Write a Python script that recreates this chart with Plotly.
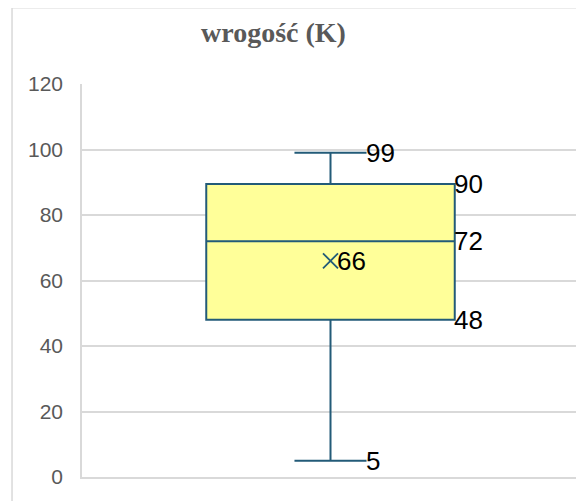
import plotly.graph_objects as go

# Data
category = ["wrogość (K)"]
q1_vals = [48]
median_vals = [72]
q3_vals = [89.5]
min_vals = [5]
max_vals = [99]
mean_vals = [66]
label_q1 = ["48"]
label_median = ["72"]
label_q3 = ["90"]
label_min = ["5"]
label_max = ["99"]
label_mean = ["66"]
y_ticks = [0, 20, 40, 60, 80, 100, 120]

line_col = "#235B78"
fill_col = "#FFFF99"
grid_col = "#D9D9D9"

fig = go.Figure()
fig.add_trace(go.Box(
    x=[0], q1=q1_vals, median=median_vals, q3=q3_vals,
    lowerfence=min_vals, upperfence=max_vals,
    width=1.0, whiskerwidth=0.29,
    fillcolor=fill_col, line=dict(color=line_col, width=2),
    boxpoints=False, hoverinfo="skip", showlegend=False,
))
fig.add_trace(go.Scatter(
    x=[0], y=mean_vals, mode="markers",
    marker=dict(symbol="x-thin", size=15, line=dict(color=line_col, width=1.8)),
    showlegend=False, hoverinfo="skip",
))

box_half = 0.5
cap_half = 0.5 * 0.29
font_lbl = dict(family="Liberation Sans, Arial", size=26, color="black")
labels = [
    (cap_half, max_vals[0], label_max[0]),
    (box_half, q3_vals[0], label_q3[0]),
    (box_half, median_vals[0], label_median[0]),
    (box_half, q1_vals[0], label_q1[0]),
    (cap_half, min_vals[0], label_min[0]),
    (0.03, mean_vals[0], label_mean[0]),
]
for lx, ly, lt in labels:
    fig.add_annotation(x=lx, y=ly, text=lt, showarrow=False, xanchor="left",
                       yanchor="middle", xshift=-2, font=font_lbl, borderpad=0)

# Title
fig.add_annotation(text="<b>" + category[0] + "</b>", xref="paper", yref="paper",
                   x=0.385, y=1.13, xanchor="center", yanchor="middle", showarrow=False,
                   font=dict(family="Liberation Serif, Times New Roman", size=28, color="#595959"))

# Outer frame (top and left edges)
fig.add_shape(type="line", xref="paper", yref="paper", x0=-0.1408, x1=1.05, y0=1.194, y1=1.194,
              line=dict(color="#D9D9D9", width=1.5))
fig.add_shape(type="line", xref="paper", yref="paper", x0=-0.1408, x1=-0.1408, y0=-0.1, y1=1.194,
              line=dict(color="#D9D9D9", width=1.5))

fig.update_layout(
    width=584, height=501,
    margin=dict(l=74, r=13, t=76, b=32),
    paper_bgcolor="white", plot_bgcolor="white",
    xaxis=dict(range=[-1, 1], showticklabels=False, showgrid=False, zeroline=False,
               showline=True, linecolor=grid_col, linewidth=1.5, fixedrange=True),
    yaxis=dict(range=[0, 120], tickvals=y_ticks, showgrid=True, gridcolor=grid_col, gridwidth=1.5,
               zeroline=False, showline=True, linecolor=grid_col, linewidth=1.5,
               tickfont=dict(family="Liberation Sans, Arial", size=21, color="#595959"),
               ticklabelstandoff=13, ticks=""),
)

fig.write_html("out.html")
